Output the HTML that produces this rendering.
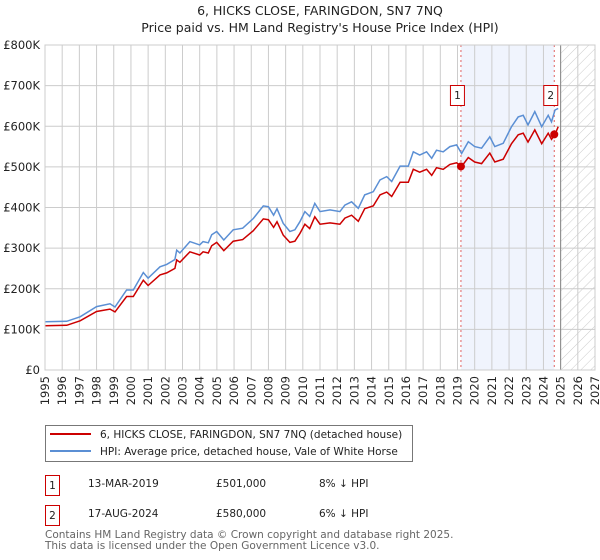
<!DOCTYPE html>
<html><head><meta charset="utf-8"><style>
body{margin:0;background:#fff;font-family:"Liberation Sans","DejaVu Sans",sans-serif;}
#wrap{position:relative;width:600px;height:560px;overflow:hidden;}
svg text{font-family:"DejaVu Sans","Liberation Sans",sans-serif;}
</style></head><body><div id="wrap">
<svg id="chart" width="600" height="560">
<text x="320" y="15" text-anchor="middle" font-size="12.5" fill="#222">6, HICKS CLOSE, FARINGDON, SN7 7NQ</text>
<text x="320" y="32" text-anchor="middle" font-size="12.5" fill="#222">Price paid vs. HM Land Registry's House Price Index (HPI)</text>
<defs><pattern id="hatch" width="7" height="7" patternUnits="userSpaceOnUse" patternTransform="rotate(45)"><line x1="0" y1="0" x2="0" y2="7" stroke="#ccc" stroke-width="1"/></pattern></defs>
<g id="plot"></g>
<g>
<rect x="45.5" y="425.5" width="367" height="36" fill="#fff" stroke="#777"/>
<line x1="50" y1="434" x2="91" y2="434" stroke="#cc0000" stroke-width="2"/>
<text x="100" y="438" font-size="10.5" fill="#222">6, HICKS CLOSE, FARINGDON, SN7 7NQ (detached house)</text>
<line x1="50" y1="451" x2="91" y2="451" stroke="#5b8fd4" stroke-width="2"/>
<text x="100" y="455" font-size="10.5" fill="#222">HPI: Average price, detached house, Vale of White Horse</text>
</g>
<g font-size="10.5" fill="#222">
<rect x="45.5" y="475.5" width="14" height="20" fill="#fff" stroke="#cc0000"/>
<text x="52.5" y="489" text-anchor="middle">1</text>
<text x="88" y="487">13-MAR-2019</text>
<text x="216" y="487">£501,000</text>
<text x="319" y="487">8% ↓ HPI</text>
<rect x="45.5" y="505.5" width="14" height="20" fill="#fff" stroke="#cc0000"/>
<text x="52.5" y="519" text-anchor="middle">2</text>
<text x="88" y="517">17-AUG-2024</text>
<text x="216" y="517">£580,000</text>
<text x="319" y="517">6% ↓ HPI</text>
</g>
<text x="45" y="538" font-size="10.5" fill="#666">Contains HM Land Registry data © Crown copyright and database right 2025.</text>
<text x="45" y="549" font-size="10.5" fill="#666">This data is licensed under the Open Government Licence v3.0.</text>
</svg></div>
<script>
const hpiYears=[1995.0,1996.26,1997.04,1998.0,1998.78,1999.07,1999.75,2000.14,2000.72,2001.0,2001.69,2002.08,2002.56,2002.66,2002.85,2003.43,2004.0,2004.2,2004.5,2004.7,2004.99,2005.4,2005.95,2006.5,2007.12,2007.7,2008.0,2008.3,2008.5,2008.86,2009.25,2009.54,2009.83,2010.12,2010.4,2010.7,2011.0,2011.58,2012.16,2012.45,2012.84,2013.23,2013.6,2014.1,2014.49,2014.88,2015.17,2015.66,2016.14,2016.43,2016.8,2017.2,2017.5,2017.78,2018.17,2018.56,2018.95,2019.24,2019.63,2020.0,2020.4,2020.88,2021.17,2021.66,2022.14,2022.53,2022.82,2023.1,2023.5,2023.9,2024.28,2024.47,2024.67,2024.86];
const hpiValues=[119,120,131,156,163,155,197,197,240,226,254,260,272,295,288,316,308,316,313,333,341,320,345,349,373,404,402,381,397,361,341,345,365,390,378,410,390,394,390,406,414,398,431,439,468,476,464,502,502,537,529,537,521,541,537,550,554,533,562,550,546,574,550,558,599,623,627,603,636,599,627,611,640,644];
const priceValues=[109,110,121,144,150,143,181,181,221,208,234,239,250,271,265,291,283,291,288,306,314,294,317,321,343,372,370,351,365,332,314,317,336,359,348,377,359,362,359,374,381,366,397,404,431,438,427,462,462,494,487,494,479,498,494,506,510,501,523,512,508,534,512,519,557,579,583,561,591,557,583,568,580,599];
const saleYears=[2019.2,2024.63];
const saleValues=[501,580];
const saleLabels=["1","2"];
const yTicks=[0,100,200,300,400,500,600,700,800];
const yTickLabels=["£0","£100K","£200K","£300K","£400K","£500K","£600K","£700K","£800K"];
const xTicks=[1995,1996,1997,1998,1999,2000,2001,2002,2003,2004,2005,2006,2007,2008,2009,2010,2011,2012,2013,2014,2015,2016,2017,2018,2019,2020,2021,2022,2023,2024,2025,2026,2027];
const X0=45,X1=595,Y0=370,Y1=45;
const xs=y=>X0+(y-1995)/(2027-1995)*(X1-X0);
const ys=v=>Y0-v/800*(Y0-Y1);
const NS="http://www.w3.org/2000/svg";
const g=document.getElementById('plot');
function mk(t,a){const e=document.createElementNS(NS,t);for(const k in a)e.setAttribute(k,a[k]);g.appendChild(e);return e;}
let e;
e=mk('rect',{x:xs(saleYears[0]),y:Y1,width:xs(saleYears[1])-xs(saleYears[0]),height:Y0-Y1,fill:'#f0f4fd'});


e=mk('rect',{x:xs(2025),y:Y1,width:X1-xs(2025),height:Y0-Y1,fill:'url(#hatch)'});


yTicks.forEach((t,i)=>{
 e=mk('line',{x1:X0,x2:X1,y1:ys(t),y2:ys(t),stroke:'#ccc','stroke-width':1});
 
 
 e=mk('text',{x:40,y:ys(t)+4,'text-anchor':'end','font-size':'11.5',fill:'#222'});e.textContent=yTickLabels[i];
 
 
});
xTicks.forEach(t=>{
 e=mk('line',{x1:xs(t),x2:xs(t),y1:Y1,y2:Y0,stroke:'#ccc','stroke-width':1});
 
 
 e=mk('text',{x:0,y:0,'text-anchor':'end','font-size':'11.5',fill:'#222',transform:`translate(${xs(t)+4},${Y0+6}) rotate(-90)`});e.textContent=t;
 
 
});
e=mk('line',{x1:xs(2025),x2:xs(2025),y1:Y1,y2:Y0,stroke:'#888','stroke-width':1});


saleYears.forEach((s,i)=>{
 e=mk('line',{x1:xs(s),x2:xs(s),y1:Y1,y2:Y0,stroke:'#e06060','stroke-width':1,'stroke-dasharray':'2,3'});
 
 
});
const pts=(vals)=>hpiYears.map((y,i)=>xs(y).toFixed(1)+','+ys(vals[i]).toFixed(1)).join(' ');
e=mk('polyline',{points:pts(hpiValues),fill:'none',stroke:'#5b8fd4','stroke-width':1.5});


e=mk('polyline',{points:pts(priceValues),fill:'none',stroke:'#cc0000','stroke-width':1.5});


saleYears.forEach((s,i)=>{
 e=mk('circle',{cx:xs(s),cy:ys(saleValues[i]),r:4,fill:'#cc0000'});
 
 
 e=mk('rect',{x:xs(s)-10.5,y:85.5,width:14,height:20,fill:'#fff',stroke:'#cc0000'});
 
 
 e=mk('text',{x:xs(s)-3.5,y:99,'text-anchor':'middle','font-size':'10.5',fill:'#222'});e.textContent=saleLabels[i];
 
 
});
e=mk('rect',{x:X0,y:Y1,width:X1-X0,height:Y0-Y1,fill:'none',stroke:'#ccc'});


</script></body></html>
